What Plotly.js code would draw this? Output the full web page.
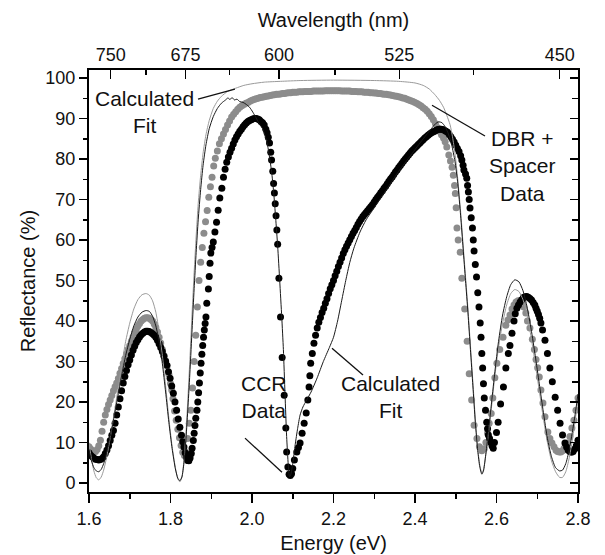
<!DOCTYPE html>
<html>
<head>
<meta charset="utf-8">
<script src="https://cdn.plot.ly/plotly-3.0.1.min.js"></script>
<style>html,body{margin:0;padding:0;background:#fff;}#chart{width:605px;height:555px;}</style>
</head>
<body>
<div id="chart"></div>
<script>
// [energy (eV), reflectance (%)]
// DBR + Spacer data (gray dots)
var dbrData = [
[1.600,9.0],[1.604,8.4],[1.608,8.0],[1.612,7.8],[1.616,7.8],[1.620,8.3],[1.624,9.2],[1.628,10.6],[1.632,12.8],[1.636,15.0],
[1.640,16.8],[1.644,18.2],[1.648,19.4],[1.652,20.5],[1.656,21.6],[1.660,22.8],[1.664,23.8],[1.668,24.7],[1.672,25.8],[1.676,27.1],
[1.680,28.3],[1.684,29.5],[1.688,30.7],[1.692,31.9],[1.696,33.0],[1.700,34.0],[1.704,35.0],[1.708,36.1],[1.712,37.1],[1.716,38.0],
[1.720,38.8],[1.724,39.4],[1.728,40.0],[1.732,40.4],[1.736,40.7],[1.740,40.8],[1.744,40.8],[1.748,40.7],[1.752,40.4],[1.756,40.0],
[1.760,39.3],[1.764,38.4],[1.768,37.3],[1.772,36.0],[1.776,34.6],[1.780,33.0],[1.784,31.5],[1.788,30.2],[1.792,29.0],[1.796,26.9],
[1.800,24.6],[1.803,23.0],[1.806,20.8],[1.810,17.8],[1.814,15.5],[1.818,13.3],[1.822,11.2],[1.826,9.3],[1.830,7.6],[1.834,6.8],
[1.838,7.6],[1.842,11.0],[1.846,14.8],[1.850,18.0],[1.854,23.5],[1.858,30.0],[1.862,36.5],[1.866,43.5],[1.870,50.0],[1.874,54.5],
[1.878,58.2],[1.882,61.7],[1.886,64.5],[1.890,67.3],[1.894,70.6],[1.898,73.2],[1.902,75.5],[1.906,78.3],[1.910,80.2],[1.915,82.0],
[1.920,83.8],[1.925,85.0],[1.930,86.2],[1.935,87.3],[1.940,88.4],[1.945,89.4],[1.950,90.4],[1.955,91.1],[1.960,91.7],[1.965,92.3],
[1.970,92.8],[1.975,93.2],[1.980,93.5],[1.985,93.8],[1.990,94.0],[1.995,94.3],[2.000,94.5],[2.005,94.7],[2.010,94.9],[2.015,95.0],
[2.020,95.2],[2.025,95.3],[2.030,95.4],[2.035,95.5],[2.040,95.6],[2.045,95.7],[2.050,95.8],[2.055,95.9],[2.060,96.0],[2.065,96.0],
[2.070,96.1],[2.075,96.2],[2.080,96.2],[2.085,96.3],[2.090,96.4],[2.095,96.4],[2.100,96.5],[2.105,96.5],[2.110,96.5],[2.115,96.6],
[2.120,96.6],[2.125,96.6],[2.130,96.7],[2.135,96.7],[2.140,96.7],[2.145,96.7],[2.150,96.8],[2.155,96.8],[2.160,96.8],[2.165,96.8],
[2.170,96.8],[2.175,96.8],[2.180,96.9],[2.185,96.9],[2.190,96.9],[2.195,96.9],[2.200,96.9],[2.205,96.9],[2.210,96.9],[2.215,96.9],
[2.220,96.8],[2.225,96.8],[2.230,96.8],[2.235,96.8],[2.240,96.8],[2.245,96.7],[2.250,96.7],[2.255,96.7],[2.260,96.6],[2.265,96.6],
[2.270,96.6],[2.275,96.5],[2.280,96.5],[2.285,96.5],[2.290,96.4],[2.295,96.4],[2.300,96.3],[2.305,96.3],[2.310,96.2],[2.315,96.2],
[2.320,96.1],[2.325,96.0],[2.330,96.0],[2.335,95.9],[2.340,95.8],[2.345,95.7],[2.350,95.6],[2.355,95.5],[2.360,95.4],[2.365,95.3],
[2.370,95.1],[2.375,95.0],[2.380,94.8],[2.385,94.6],[2.390,94.4],[2.395,94.2],[2.400,94.0],[2.405,93.7],[2.410,93.4],[2.415,93.1],
[2.420,92.7],[2.425,92.3],[2.430,91.8],[2.435,91.2],[2.440,90.5],[2.445,89.7],[2.450,88.8],[2.455,87.8],[2.460,86.9],[2.465,86.0],
[2.470,85.2],[2.474,84.3],[2.478,83.0],[2.483,81.0],[2.487,79.5],[2.491,78.0],[2.494,76.0],[2.497,73.5],[2.499,71.5],[2.501,68.0],
[2.503,63.0],[2.506,60.0],[2.511,57.0],[2.515,50.6],[2.522,43.0],[2.528,35.0],[2.533,27.0],[2.539,20.5],[2.545,14.3],[2.552,11.0],
[2.558,9.0],[2.564,8.0],[2.570,8.5],[2.574,10.0],[2.578,12.3],[2.582,14.8],[2.587,17.2],[2.591,21.0],[2.596,26.0],[2.601,29.6],
[2.608,33.0],[2.616,36.0],[2.623,39.0],[2.628,40.3],[2.633,41.5],[2.638,43.0],[2.643,44.0],[2.648,44.7],[2.653,45.0],[2.657,45.0],
[2.660,44.7],[2.664,44.2],[2.667,43.5],[2.672,42.0],[2.676,40.0],[2.682,38.3],[2.688,35.5],[2.693,33.0],[2.697,30.5],[2.701,28.5],
[2.705,26.2],[2.709,23.0],[2.714,19.8],[2.719,16.4],[2.726,12.6],[2.731,11.0],[2.736,9.9],[2.741,9.0],[2.746,8.1],[2.750,7.8],
[2.754,7.7],[2.758,7.7],[2.762,8.0],[2.766,8.6],[2.770,9.2],[2.775,9.9],[2.780,11.5],[2.785,13.6],[2.790,15.5],[2.795,18.0],
[2.800,21.0]
];

// CCR data (black dots)
var ccrData = [
[1.600,7.5],[1.604,6.9],[1.608,6.5],[1.612,6.2],[1.616,5.9],[1.620,5.8],[1.624,5.7],[1.628,5.8],[1.632,6.1],[1.636,6.5],
[1.640,7.3],[1.644,8.2],[1.648,9.2],[1.652,10.5],[1.656,11.8],[1.660,13.0],[1.664,14.8],[1.668,16.8],[1.672,18.8],[1.676,20.8],
[1.680,22.8],[1.684,24.7],[1.688,26.3],[1.692,27.8],[1.696,29.2],[1.700,30.4],[1.704,31.6],[1.708,32.8],[1.712,33.8],[1.716,34.7],
[1.720,35.4],[1.724,36.1],[1.728,36.6],[1.732,37.0],[1.736,37.3],[1.740,37.5],[1.744,37.5],[1.748,37.4],[1.752,37.2],[1.756,36.9],
[1.760,36.5],[1.764,36.0],[1.768,35.3],[1.772,34.4],[1.776,33.5],[1.780,32.5],[1.784,31.3],[1.788,30.1],[1.791,29.1],[1.795,27.5],
[1.799,25.9],[1.803,24.0],[1.807,22.2],[1.811,20.0],[1.815,18.0],[1.819,15.8],[1.823,13.8],[1.827,11.8],[1.830,10.2],[1.833,8.9],
[1.836,7.5],[1.839,6.3],[1.842,5.6],[1.845,5.5],[1.848,6.2],[1.851,7.3],[1.853,8.6],[1.856,10.5],[1.858,12.3],[1.860,14.2],
[1.862,16.0],[1.865,18.0],[1.867,20.0],[1.869,22.3],[1.871,24.7],[1.873,27.2],[1.875,29.6],[1.877,31.8],[1.879,34.0],[1.881,36.0],
[1.883,37.8],[1.885,39.4],[1.887,41.0],[1.889,44.4],[1.893,47.9],[1.895,51.0],[1.897,54.3],[1.899,56.8],[1.902,58.2],[1.905,59.5],
[1.909,62.0],[1.913,64.4],[1.917,67.4],[1.921,70.4],[1.926,72.8],[1.930,75.5],[1.934,77.5],[1.938,79.2],[1.942,80.5],[1.946,81.7],
[1.950,82.7],[1.954,83.7],[1.958,84.7],[1.962,85.5],[1.966,86.2],[1.970,86.9],[1.974,87.4],[1.978,88.0],[1.982,88.5],[1.986,88.9],
[1.990,89.3],[1.994,89.5],[1.998,89.7],[2.002,89.9],[2.006,90.0],[2.010,90.0],[2.014,89.9],[2.018,89.7],[2.022,89.3],[2.026,89.0],
[2.030,88.4],[2.034,87.4],[2.037,86.5],[2.040,85.4],[2.043,84.0],[2.046,81.7],[2.048,79.8],[2.051,77.0],[2.053,74.0],[2.055,71.6],
[2.057,69.0],[2.059,66.0],[2.061,62.5],[2.063,59.0],[2.066,50.6],[2.070,41.0],[2.074,31.0],[2.079,21.7],[2.083,13.6],[2.085,7.7],
[2.088,4.0],[2.091,2.2],[2.094,1.9],[2.097,2.3],[2.100,3.6],[2.104,5.7],[2.110,7.7],[2.114,8.8],[2.118,9.9],[2.123,12.3],
[2.128,14.8],[2.133,17.3],[2.137,20.5],[2.140,23.7],[2.142,26.5],[2.144,29.6],[2.148,32.0],[2.152,34.5],[2.156,36.5],[2.160,38.3],
[2.164,39.7],[2.168,40.9],[2.172,42.1],[2.176,43.2],[2.180,44.4],[2.184,45.5],[2.188,46.8],[2.192,48.0],[2.196,49.0],[2.200,50.0],
[2.204,51.2],[2.208,52.3],[2.212,53.5],[2.216,54.5],[2.220,55.6],[2.224,56.7],[2.228,57.6],[2.232,58.5],[2.236,59.3],[2.240,60.1],
[2.244,60.9],[2.248,61.7],[2.252,62.4],[2.256,63.1],[2.260,63.9],[2.264,64.6],[2.268,65.2],[2.272,65.8],[2.276,66.3],[2.280,66.8],
[2.284,67.3],[2.288,67.8],[2.292,68.3],[2.296,68.8],[2.300,69.4],[2.304,70.0],[2.308,70.6],[2.312,71.1],[2.316,71.7],[2.320,72.2],
[2.324,72.8],[2.328,73.3],[2.332,73.9],[2.336,74.5],[2.340,75.1],[2.344,75.6],[2.348,76.2],[2.352,76.8],[2.356,77.3],[2.360,77.9],
[2.364,78.4],[2.368,79.0],[2.372,79.5],[2.376,80.0],[2.380,80.5],[2.384,81.0],[2.388,81.5],[2.392,82.0],[2.396,82.4],[2.400,82.8],
[2.404,83.2],[2.408,83.6],[2.412,84.0],[2.416,84.4],[2.420,84.8],[2.424,85.2],[2.428,85.5],[2.432,85.9],[2.436,86.2],[2.440,86.5],
[2.444,86.7],[2.448,86.9],[2.452,87.1],[2.456,87.3],[2.460,87.4],[2.464,87.4],[2.468,87.3],[2.472,87.1],[2.476,86.9],[2.480,86.6],
[2.484,86.1],[2.488,85.5],[2.492,84.9],[2.496,84.2],[2.500,83.4],[2.504,82.6],[2.508,81.9],[2.512,80.8],[2.515,79.8],[2.518,78.5],
[2.520,77.3],[2.524,76.3],[2.527,75.3],[2.529,73.5],[2.531,71.9],[2.533,70.0],[2.535,67.9],[2.538,65.5],[2.541,63.0],[2.543,60.0],
[2.545,57.3],[2.548,54.0],[2.551,50.9],[2.554,47.0],[2.557,43.5],[2.560,39.5],[2.562,36.0],[2.564,32.0],[2.566,28.4],[2.568,24.5],
[2.570,21.0],[2.573,18.0],[2.576,15.0],[2.578,13.4],[2.580,11.9],[2.583,11.0],[2.586,10.1],[2.589,9.2],[2.592,8.6],[2.595,10.0],
[2.600,12.5],[2.604,15.0],[2.610,19.5],[2.617,23.7],[2.623,28.4],[2.629,32.0],[2.633,34.0],[2.638,37.0],[2.643,40.0],[2.646,41.8],
[2.650,43.2],[2.654,44.0],[2.658,44.7],[2.662,45.3],[2.666,45.8],[2.670,46.0],[2.674,46.1],[2.678,45.9],[2.682,45.6],[2.686,45.2],
[2.690,44.6],[2.694,44.0],[2.697,43.2],[2.700,42.4],[2.703,41.6],[2.706,40.7],[2.709,39.5],[2.713,37.8],[2.719,35.3],[2.725,32.0],
[2.731,28.4],[2.737,25.0],[2.744,21.2],[2.750,18.0],[2.756,14.8],[2.762,11.9],[2.768,9.9],[2.772,8.9],[2.776,8.1],[2.780,7.8],
[2.784,7.6],[2.788,7.8],[2.792,8.4],[2.796,9.3],[2.800,10.6]
];

// Calculated fit for CCR (dark thin line)
var ccrFit = [
[1.600,8],[1.606,5.5],[1.612,3.8],[1.618,3.0],[1.624,2.8],[1.630,3.4],[1.636,4.8],[1.642,7.0],[1.650,10.5],[1.660,15.5],
[1.670,21],[1.680,26.5],[1.690,31.5],[1.700,35.5],[1.710,38.8],[1.720,41],[1.730,42.2],[1.740,42.6],[1.748,42.4],[1.756,41.2],
[1.764,38.8],[1.772,35],[1.780,29.5],[1.788,22.5],[1.796,15],[1.804,8.5],[1.812,3.5],[1.818,1.2],[1.823,0.6],[1.828,1.5],
[1.833,5],[1.838,11],[1.843,19],[1.848,28],[1.853,38],[1.858,48],[1.863,57],[1.868,65],[1.874,72.5],[1.880,78.5],
[1.887,83.5],[1.895,87.5],[1.905,90.5],[1.915,92.5],[1.925,93.8],[1.935,94.6],[1.941,95.1],[1.946,94.7],[1.951,95.2],[1.957,94.6],
[1.963,94.8],[1.970,94.2],[1.978,94.0],[1.986,93.5],[1.994,92.8],[2.002,91.6],[2.010,90.2],[2.018,88.7],[2.026,87.5],[2.032,85.8],
[2.038,83.5],[2.043,80.5],[2.048,77],[2.053,72],[2.058,65.5],[2.063,58.5],[2.068,50],[2.073,41],[2.077,33],[2.081,22],
[2.085,11.5],[2.089,4.5],[2.092,1.6],[2.095,2.0],[2.100,4.8],[2.106,9.5],[2.112,13.5],[2.118,16.8],[2.125,18.8],[2.134,20.5],
[2.145,22.5],[2.160,26],[2.175,30],[2.190,33.5],[2.200,36],[2.210,40],[2.220,45],[2.230,50],[2.240,54.5],[2.250,58],
[2.265,62],[2.280,65],[2.300,68],[2.330,72.5],[2.360,77],[2.390,81],[2.420,85],[2.440,87.5],[2.450,88.7],[2.458,89.2],
[2.466,89],[2.474,88],[2.482,86.2],[2.490,83.5],[2.498,79.5],[2.505,74],[2.512,66],[2.518,58],[2.524,50],[2.530,42],
[2.536,33],[2.542,24],[2.548,15],[2.554,8],[2.559,4],[2.564,2.2],[2.568,3],[2.573,6.5],[2.580,12.5],[2.588,20],
[2.596,27.5],[2.605,35],[2.615,41.5],[2.625,46],[2.635,49],[2.645,50.2],[2.655,49.7],[2.665,47.5],[2.675,43.5],[2.685,38],
[2.695,31.5],[2.705,24.5],[2.715,17.5],[2.725,11],[2.735,6.5],[2.745,3.8],[2.755,3.0],[2.762,3.2],[2.770,4.8],[2.778,8],
[2.786,12.5],[2.793,17],[2.800,22]
];

// Calculated fit for DBR + Spacer (light gray thin line)
var dbrFit = [
[1.600,10],[1.606,6],[1.612,3],[1.618,1.3],[1.624,0.8],[1.630,1.5],[1.636,3.2],[1.642,5.8],[1.650,10],[1.660,16],
[1.670,22.5],[1.680,29],[1.690,35],[1.700,39.5],[1.710,43],[1.720,45.3],[1.730,46.5],[1.740,46.8],[1.748,46.4],[1.756,45],
[1.764,42.2],[1.772,37.5],[1.780,31.5],[1.788,24],[1.796,16],[1.804,9],[1.812,3.8],[1.818,1.0],[1.823,0.3],[1.828,1.5],
[1.833,5.5],[1.838,12.5],[1.843,21.5],[1.848,31.5],[1.853,42],[1.858,52],[1.863,61],[1.868,69],[1.874,76],[1.880,81.5],
[1.887,86],[1.895,89.5],[1.905,92.5],[1.915,94.3],[1.925,95.5],[1.940,96.7],[1.960,97.5],[1.980,98.2],[2.000,98.6],[2.030,99],
[2.070,99.2],[2.120,99.4],[2.200,99.5],[2.300,99.4],[2.360,99.2],[2.400,98.8],[2.420,98.2],[2.435,97.3],[2.448,96],[2.460,94.5],
[2.470,92.8],[2.478,90.8],[2.486,88.5],[2.492,85.5],[2.498,81.5],[2.505,75],[2.512,67],[2.518,59],[2.524,51],[2.530,43],
[2.536,34],[2.542,25],[2.548,16],[2.554,8.5],[2.559,4.5],[2.564,2.5],[2.568,3.3],[2.573,6.5],[2.580,12],[2.588,19],
[2.596,26.5],[2.605,33.5],[2.615,39.5],[2.625,44],[2.635,46.8],[2.645,47.8],[2.655,47.3],[2.665,45.3],[2.675,41.5],[2.685,36],
[2.695,29.5],[2.705,22.8],[2.715,16],[2.725,10],[2.735,5.5],[2.745,2.8],[2.755,1.4],[2.762,1.4],[2.770,2.8],[2.778,6],
[2.786,10.5],[2.793,15.5],[2.800,20.5]
];

// Top-axis wavelength tick labels (nm)
var wlMajor = [750, 675, 600, 525, 450];
var wlMinor = [712.5, 637.5, 562.5, 487.5];

var HC = 1239.84;
var FONT = 'Liberation Sans, Arial, sans-serif';
function col(a, i) { return a.map(function (p) { return p[i]; }); }

var traces = [
  {x: col(dbrData, 0), y: col(dbrData, 1), mode: 'markers', type: 'scatter',
   marker: {color: '#8c8c8c', size: 7}, showlegend: false, hoverinfo: 'skip'},
  {x: col(ccrData, 0), y: col(ccrData, 1), mode: 'markers', type: 'scatter',
   marker: {color: '#000000', size: 7}, showlegend: false, hoverinfo: 'skip'},
  {x: col(dbrFit, 0), y: col(dbrFit, 1), mode: 'lines', type: 'scatter',
   line: {color: '#9a9a9a', width: 1, shape: 'spline', smoothing: 0.6}, showlegend: false, hoverinfo: 'skip'},
  {x: col(ccrFit, 0), y: col(ccrFit, 1), mode: 'lines', type: 'scatter',
   line: {color: '#1a1a1a', width: 1, shape: 'spline', smoothing: 0.6}, showlegend: false, hoverinfo: 'skip'},
  {x: [null], y: [null], xaxis: 'x2', yaxis: 'y2', mode: 'markers', type: 'scatter', showlegend: false, hoverinfo: 'skip'}
];

var annFont = {family: FONT, size: 21, color: '#111'};
var layout = {
  width: 605, height: 555,
  margin: {l: 89, r: 27, t: 70, b: 63},
  paper_bgcolor: '#fff', plot_bgcolor: '#fff',
  font: {family: FONT, color: '#111'},
  showlegend: false,
  xaxis: {
    range: [1.6, 2.8], autorange: false,
    dtick: 0.2, tick0: 1.6, tickformat: '.1f',
    ticks: 'outside', ticklen: 9, tickwidth: 1.5, tickcolor: '#000',
    minor: {dtick: 0.1, ticks: 'outside', ticklen: 5, tickwidth: 1.5, tickcolor: '#000'},
    showline: true, linecolor: '#000', linewidth: 2,
    showgrid: false, zeroline: false,
    tickfont: {family: FONT, size: 18, color: '#111'},
    title: {text: 'Energy (eV)', font: {family: FONT, size: 20, color: '#111'}, standoff: 8}
  },
  xaxis2: {
    overlaying: 'x', side: 'top', anchor: 'y',
    range: [1.6, 2.8], autorange: false,
    tickmode: 'array',
    tickvals: wlMajor.map(function (w) { return HC / w; }),
    ticktext: wlMajor.map(String),
    ticks: 'inside', ticklen: 9, tickwidth: 1.5, tickcolor: '#000',
    minor: {tickmode: 'array', tickvals: wlMinor.map(function (w) { return HC / w; }),
            ticks: 'inside', ticklen: 5, tickwidth: 1.5, tickcolor: '#000'},
    showline: true, linecolor: '#000', linewidth: 2,
    showgrid: false, zeroline: false,
    tickfont: {family: FONT, size: 18, color: '#111'},
    title: {text: 'Wavelength (nm)', font: {family: FONT, size: 20, color: '#111'}, standoff: 12}
  },
  yaxis: {
    range: [-2.2, 102], autorange: false,
    dtick: 10, tick0: 0,
    ticks: 'outside', ticklen: 8, tickwidth: 1.5, tickcolor: '#000',
    minor: {dtick: 5, ticks: 'outside', ticklen: 4, tickwidth: 1.5, tickcolor: '#000'},
    showline: true, linecolor: '#000', linewidth: 2,
    showgrid: false, zeroline: false,
    tickfont: {family: FONT, size: 18, color: '#111'},
    title: {text: 'Reflectance (%)', font: {family: FONT, size: 20, color: '#111'}, standoff: 4}
  },
  yaxis2: {
    overlaying: 'y', side: 'right', anchor: 'x',
    range: [-2.2, 102], autorange: false,
    dtick: 10, tick0: 0,
    ticks: 'inside', ticklen: 8, tickwidth: 1.5, tickcolor: '#000',
    minor: {dtick: 5, ticks: 'inside', ticklen: 6, tickwidth: 1.5, tickcolor: '#000'},
    showticklabels: false,
    showline: true, linecolor: '#000', linewidth: 2,
    showgrid: false, zeroline: false
  },
  shapes: [
    {type: 'line', xref: 'x', yref: 'y', x0: 1.8675, y0: 94.8, x1: 1.958, y1: 97.3, line: {color: '#111', width: 1.3}},
    {type: 'line', xref: 'x', yref: 'y', x0: 2.4417, y0: 93.3, x1: 2.5718, y1: 85.7, line: {color: '#111', width: 1.3}},
    {type: 'line', xref: 'x', yref: 'y', x0: 1.9828, y0: 11.1, x1: 2.0736, y1: 2.7, line: {color: '#111', width: 1.3}},
    {type: 'line', xref: 'x', yref: 'y', x0: 2.1963, y0: 33.3, x1: 2.2724, y1: 26.7, line: {color: '#111', width: 1.3}}
  ],
  annotations: [
    {x: 1.737, y: 91.6, xref: 'x', yref: 'y', text: 'Calculated<br>Fit', showarrow: false, font: annFont, align: 'center'},
    {x: 2.665, y: 78.3, xref: 'x', yref: 'y', text: 'DBR +<br>Spacer<br>Data', showarrow: false, font: annFont, align: 'center'},
    {x: 2.029, y: 21.2, xref: 'x', yref: 'y', text: 'CCR<br>Data', showarrow: false, font: annFont, align: 'center'},
    {x: 2.341, y: 21.2, xref: 'x', yref: 'y', text: 'Calculated<br>Fit', showarrow: false, font: annFont, align: 'center'}
  ]
};

Plotly.newPlot('chart', traces, layout, {displayModeBar: false, staticPlot: true});
</script>
</body>
</html>
